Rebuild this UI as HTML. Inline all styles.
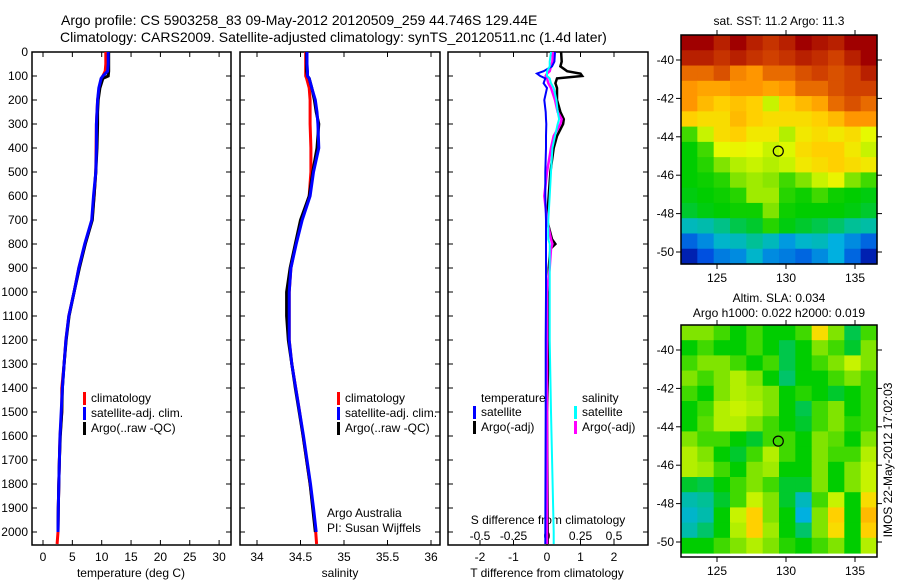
<!DOCTYPE html>
<html><head><meta charset="utf-8"><style>
html,body{margin:0;padding:0;background:#fff;}
svg{display:block;font-family:"Liberation Sans",sans-serif;}
text{fill:#000;}
</style></head><body>
<svg id="chart" width="900" height="580" viewBox="0 0 900 580" xmlns="http://www.w3.org/2000/svg">
<text x="61" y="25" font-size="14" text-anchor="start">Argo profile: CS 5903258_83 09-May-2012 20120509_259 44.746S 129.44E</text>
<text x="60" y="42" font-size="14" text-anchor="start">Climatology: CARS2009. Satellite-adjusted climatology: synTS_20120511.nc (1.4d later)</text>
<text x="779" y="25" font-size="12" text-anchor="middle">sat. SST: 11.2  Argo: 11.3</text>
<text x="779" y="302" font-size="12" text-anchor="middle">Altim. SLA: 0.034</text>
<text x="779" y="317" font-size="12" text-anchor="middle">Argo h1000: 0.022 h2000: 0.019</text>
<text x="0" y="0" font-size="12" text-anchor="middle" transform="translate(892,460) rotate(-90)">IMOS 22-May-2012 17:02:03</text>
<g id="layer"></g>
</svg>
<script>
// ---------- profile data ----------
const depths = [0,50,80,100,110,150,200,250,300,400,500,600,700,800,900,1000,1100,1200,1300,1400,1500,1600,1700,1800,1900,2000,2050];
const tempClim = [10.7,10.7,10.6,10.2,10,9.6,9.3,9.2,9.1,9.05,9.0,8.7,8.35,7.15,6.1,5.3,4.4,3.9,3.6,3.2,3.2,2.9,2.8,2.7,2.6,2.55,2.4];
const tempSat = [11.1,11.1,11.0,10.2,9.9,9.5,9.3,9.2,9.1,9.1,9.0,8.6,8.3,7.1,6.1,5.3,4.4,3.9,3.6,3.3,3.1,2.9,2.8,2.7,2.6,2.55,null];
const tempArgo = [11.2,11.2,11.2,11.1,10.2,9.7,9.4,9.3,9.3,9.2,9.0,8.7,8.4,7.2,6.2,5.3,4.45,3.95,3.6,3.3,3.2,2.95,2.8,2.7,2.6,2.55,null];
const salClim = [34.56,34.56,34.56,34.56,34.57,34.6,34.61,34.61,34.61,34.62,34.62,34.6,34.51,34.445,34.39,34.37,34.37,34.37,34.4,34.445,34.49,34.53,34.57,34.61,34.645,34.675,34.685];
const salSat = [34.575,34.575,34.58,34.58,34.6,34.63,34.67,34.69,34.70,34.71,34.65,34.61,34.52,34.45,34.39,34.37,34.37,34.37,34.4,34.445,34.49,34.535,34.575,34.615,34.65,34.68,null];
const salArgo = [34.57,34.57,34.57,34.58,34.6,34.63,34.66,34.68,34.71,34.69,34.64,34.6,34.5,34.44,34.38,34.34,34.34,34.36,34.4,34.44,34.485,34.53,34.57,34.61,34.64,34.67,null];
const diffDepths = [0,40,60,80,90,100,110,130,150,200,250,280,300,350,400,500,600,700,780,800,820,900,1000,1200,1500,2000,2050];
const dTsat = [0.24,0.22,0.15,-0.1,-0.3,-0.2,-0.05,-0.1,0.0,-0.08,-0.04,-0.03,-0.02,-0.03,-0.03,-0.05,-0.05,-0.03,-0.03,-0.03,-0.03,-0.03,-0.03,-0.04,-0.04,-0.05,-0.05];
const dTargo = [0.42,0.44,0.4,0.6,1.0,1.05,0.3,0.25,0.3,0.3,0.4,0.5,0.48,0.3,0.2,0.1,0.05,0,0.15,0.25,0.1,0.05,0.05,0.05,0.0,0.02,0.02];
const dSargo = [0.045,0.04,0.03,0.02,0.0,-0.01,0.0,0.01,0.03,0.06,0.08,0.11,0.1,0.05,0.03,0.0,-0.02,0.0,0.03,0.04,0.03,0.02,0.0,0.0,0.0,0.0,0.0];
const dSsat = [0.03,0.02,0.02,0.0,0.0,0.0,0.02,0.03,0.05,0.07,0.08,0.09,0.08,0.06,0.04,0.03,0.02,0.01,0.01,0.02,0.02,0.02,0.02,0.02,0.03,0.05,0.05];
// ---------- tick labels ----------
const depthTicks = [0,100,200,300,400,500,600,700,800,900,1000,1100,1200,1300,1400,1500,1600,1700,1800,1900,2000];
const tempTicks = [0,5,10,15,20,25,30];
const salTicks = [34,34.5,35,35.5,36];
const dTTicks = [-2,-1,0,1,2];
const dSTicks = [-0.5,-0.25,0,0.25,0.5];
const dSTickLabels = ["-0.5","-0.25","0","0.25","0.5"];
const lonTicks = [125,130,135];
const latTicks = [-40,-42,-44,-46,-48,-50];
const floatLon = 129.44;
const floatLat = -44.746;
// ---------- map grids (colormap index 0..1), rows north to south ----------
const sstGrid = [
[1.0,1.0,0.95,1.0,0.95,0.92,0.95,1.0,0.97,0.95,1.0,1.0],
[0.95,0.95,0.92,0.95,0.92,0.9,0.92,0.95,0.93,0.9,0.95,1.0],
[0.85,0.85,0.88,0.82,0.8,0.85,0.85,0.88,0.9,0.88,0.9,0.95],
[0.8,0.78,0.78,0.8,0.8,0.78,0.8,0.85,0.85,0.88,0.9,0.9],
[0.8,0.75,0.72,0.74,0.72,0.62,0.72,0.75,0.78,0.85,0.88,0.85],
[0.72,0.7,0.7,0.75,0.72,0.7,0.7,0.7,0.72,0.75,0.8,0.8],
[0.5,0.62,0.7,0.72,0.68,0.68,0.6,0.68,0.7,0.68,0.7,0.65],
[0.45,0.5,0.65,0.66,0.65,0.62,0.64,0.7,0.72,0.72,0.68,0.62],
[0.45,0.48,0.55,0.6,0.62,0.6,0.62,0.68,0.7,0.72,0.7,0.68],
[0.45,0.46,0.48,0.55,0.58,0.56,0.5,0.55,0.62,0.66,0.55,0.5],
[0.44,0.45,0.46,0.48,0.58,0.58,0.48,0.46,0.5,0.46,0.45,0.44],
[0.42,0.44,0.45,0.46,0.46,0.55,0.46,0.45,0.45,0.45,0.44,0.42],
[0.3,0.32,0.36,0.4,0.42,0.48,0.44,0.42,0.4,0.38,0.35,0.33],
[0.15,0.2,0.28,0.3,0.35,0.3,0.22,0.28,0.3,0.25,0.2,0.15],
[0.05,0.12,0.18,0.2,0.28,0.2,0.18,0.15,0.2,0.25,0.15,0.05]];
const slaGrid = [
[0.55,0.55,0.5,0.45,0.5,0.45,0.45,0.5,0.7,0.55,0.4,0.5],
[0.45,0.5,0.45,0.45,0.5,0.45,0.4,0.45,0.55,0.5,0.42,0.55],
[0.5,0.55,0.55,0.5,0.45,0.5,0.4,0.45,0.5,0.55,0.62,0.55],
[0.55,0.5,0.55,0.6,0.55,0.45,0.38,0.45,0.45,0.5,0.55,0.5],
[0.5,0.45,0.55,0.6,0.58,0.55,0.45,0.48,0.45,0.42,0.45,0.5],
[0.45,0.5,0.6,0.62,0.6,0.55,0.45,0.4,0.5,0.55,0.45,0.5],
[0.45,0.52,0.6,0.6,0.55,0.5,0.45,0.42,0.5,0.55,0.48,0.5],
[0.55,0.5,0.5,0.45,0.42,0.5,0.5,0.45,0.55,0.52,0.45,0.55],
[0.6,0.55,0.45,0.42,0.5,0.6,0.5,0.45,0.55,0.5,0.5,0.6],
[0.6,0.58,0.5,0.45,0.55,0.58,0.45,0.45,0.55,0.45,0.55,0.62],
[0.42,0.4,0.45,0.5,0.55,0.5,0.42,0.42,0.55,0.45,0.55,0.62],
[0.32,0.35,0.42,0.5,0.62,0.55,0.42,0.3,0.5,0.62,0.45,0.7],
[0.28,0.32,0.45,0.62,0.72,0.55,0.45,0.25,0.55,0.72,0.45,0.75],
[0.32,0.38,0.45,0.6,0.72,0.58,0.45,0.38,0.55,0.7,0.45,0.72],
[0.45,0.45,0.5,0.55,0.6,0.55,0.48,0.45,0.5,0.55,0.45,0.6]];

const NS = "http://www.w3.org/2000/svg";
const layer = document.getElementById("layer");
function mk(tag, attrs, parent) {
  const e = document.createElementNS(NS, tag);
  for (const k in attrs) e.setAttribute(k, attrs[k]);
  (parent || layer).appendChild(e);
  return e;
}
function txt(s, x, y, anchor, size, parent) {
  const t = mk("text", {x: x, y: y, "text-anchor": anchor, "font-size": size || 12}, parent);
  t.textContent = s;
  return t;
}
// ---------- scales ----------
const PT = 52, PB = 545;
const yD = d => PT + d * 0.24;
const xT = v => 43 + v * 5.87;
const xS = v => 257 + (v - 34) * 87;
const xdT = v => 547 + v * 33.5;
const xdS = v => 547 + v * 134;
const xLon = v => 717 + (v - 125) * 13.8;
const yLat1 = v => 60 + (-40 - v) * 19.2;
const yLat2 = v => 350 + (-40 - v) * 19.2;

const panels = [
  {name: "temperature", x0: 32, x1: 231, sx: xT, ticks: tempTicks},
  {name: "salinity", x0: 240, x1: 440, sx: xS, ticks: salTicks},
  {name: "difference", x0: 448, x1: 648, sx: xdT, ticks: dTTicks}
];
panels.forEach(p => {
  const g = mk("g", {});
  
  
  const fr = mk("rect", {x: p.x0, y: PT, width: p.x1 - p.x0, height: PB - PT, fill: "none", stroke: "#000", "stroke-width": 1.5}, g);
  
  
  depthTicks.forEach(d => {
    const y = yD(d);
    mk("line", {x1: p.x0, x2: p.x0 + 5, y1: y, y2: y, stroke: "#000"}, g);
    mk("line", {x1: p.x1 - 5, x2: p.x1, y1: y, y2: y, stroke: "#000"}, g);
  });
  p.ticks.forEach(v => {
    const x = p.sx(v);
    mk("line", {x1: x, x2: x, y1: PT, y2: PT + 5, stroke: "#000"}, g);
    mk("line", {x1: x, x2: x, y1: PB - 5, y2: PB, stroke: "#000"}, g);
    const t = txt(String(v), x, 561, "middle", 12, g);
    
    
  });
});
depthTicks.forEach(d => {
  const t = txt(String(d), 28, yD(d) + 4, "end", 12);
  
  
});
const xl1 = txt("temperature (deg C)", 131, 577, "middle", 12);


const xl2 = txt("salinity", 340, 577, "middle", 12);


const xl3 = txt("T difference from climatology", 547, 577, "middle", 12);


const xl4 = txt("S difference from climatology", 548, 524, "middle", 12);


dSTicks.forEach((v, i) => {
  const t = txt(dSTickLabels[i], xdS(v), 540, "middle", 12);
  
  
});
const aa = txt("Argo Australia", 327, 517, "start", 12);


const pi = txt("PI: Susan Wijffels", 327, 532, "start", 12);



function profile(vals, dArr, sx, color, w, name) {
  const pts = [];
  vals.forEach((v, i) => { if (v !== null) pts.push(sx(v).toFixed(1) + "," + yD(dArr[i]).toFixed(1)); });
  const l = mk("polyline", {points: pts.join(" "), fill: "none", stroke: color, "stroke-width": w, "stroke-linejoin": "miter"});
  
  
}
profile(tempClim, depths, xT, "#ff0000", 3, "temp-climatology-line");
profile(tempArgo, depths, xT, "#000000", 3, "temp-argo-line");
profile(tempSat, depths, xT, "#0000ff", 3, "temp-satellite-line");
profile(salClim, depths, xS, "#ff0000", 3, "sal-climatology-line");
profile(salArgo, depths, xS, "#000000", 3, "sal-argo-line");
profile(salSat, depths, xS, "#0000ff", 3, "sal-satellite-line");
profile(dTargo, diffDepths, xdT, "#000000", 2.5, "dt-argo-line");
profile(dSargo, diffDepths, xdS, "#ff00ff", 2.5, "ds-argo-line");
profile(dTsat, diffDepths, xdT, "#0000ff", 2, "dt-satellite-line");
profile(dSsat, diffDepths, xdS, "#00ffff", 2, "ds-satellite-line");

function legendItem(x, y, color, label, name) {
  const m = mk("rect", {x: x, y: y - 10, width: 3, height: 13, fill: color});
  
  
  const t = txt(label, x + 8, y, "start", 12);
  
  
}
[[83, "temp"], [337, "sal"]].forEach(([x, n]) => {
  legendItem(x, 402, "#ff0000", "climatology", n + "-legend-climatology");
  legendItem(x, 417, "#0000ff", "satellite-adj. clim.", n + "-legend-satellite");
  legendItem(x, 432, "#000000", "Argo(..raw -QC)", n + "-legend-argo");
});
const lt = txt("temperature", 481, 402, "start", 12);


const ls = txt("salinity", 582, 402, "start", 12);


legendItem(473, 416, "#0000ff", "satellite", "diff-legend-t-satellite");
legendItem(473, 431, "#000000", "Argo(-adj)", "diff-legend-t-argo");
legendItem(574, 416, "#00ffff", "satellite", "diff-legend-s-satellite");
legendItem(574, 431, "#ff00ff", "Argo(-adj)", "diff-legend-s-argo");

// ---------- maps ----------
const cstops = [[0,[0,0,143]],[0.12,[0,80,224]],[0.25,[0,176,224]],[0.35,[0,192,150]],[0.45,[0,205,0]],[0.55,[128,228,0]],[0.65,[230,250,0]],[0.72,[255,208,0]],[0.8,[255,150,0]],[0.9,[208,64,0]],[1,[160,0,0]]];
function cmap(v) {
  for (let i = 1; i < cstops.length; i++) {
    if (v <= cstops[i][0]) {
      const a = cstops[i-1], b = cstops[i], f = (v - a[0]) / (b[0] - a[0]);
      const c = a[1].map((q, k) => Math.round(q + (b[1][k] - q) * f));
      return "rgb(" + c.join(",") + ")";
    }
  }
  return "rgb(160,0,0)";
}
function drawMap(grid, top, bottom, dataBottom, yLat, name) {
  const L = 681, R = 877;
  const g = mk("g", {});
  
  
  const rows = grid.length, cols = grid[0].length;
  const cw = (R - L) / cols, ch = (dataBottom - top) / rows;
  grid.forEach((row, r) => row.forEach((v, c) => {
    const cell = mk("rect", {x: (L + c * cw).toFixed(2), y: (top + r * ch).toFixed(2), width: (cw + 0.6).toFixed(2), height: (ch + 0.6).toFixed(2), fill: cmap(v)}, g);
    
    
  }));
  const fr = mk("rect", {x: L, y: top, width: R - L, height: bottom - top, fill: "none", stroke: "#000", "stroke-width": 1.5}, g);
  
  
  lonTicks.forEach(v => {
    const x = xLon(v);
    mk("line", {x1: x, x2: x, y1: top, y2: top - 5, stroke: "#000"}, g);
    mk("line", {x1: x, x2: x, y1: bottom, y2: bottom + 5, stroke: "#000"}, g);
    const t = txt(String(v), x, bottom + 18, "middle", 12, g);
    
    
  });
  latTicks.forEach(v => {
    const y = yLat(v);
    mk("line", {x1: L - 5, x2: L, y1: y, y2: y, stroke: "#000"}, g);
    mk("line", {x1: R, x2: R + 5, y1: y, y2: y, stroke: "#000"}, g);
    const t = txt(String(v), 674, y + 4, "end", 12, g);
    
    
  });
  const c = mk("circle", {cx: xLon(floatLon), cy: yLat(floatLat), r: 5, fill: "none", stroke: "#000", "stroke-width": 1.2}, g);
  
  
}
drawMap(sstGrid, 35, 264, 264, yLat1, "sst-map");
drawMap(slaGrid, 325, 557, 553, yLat2, "sla-map");
</script>
</body></html>
